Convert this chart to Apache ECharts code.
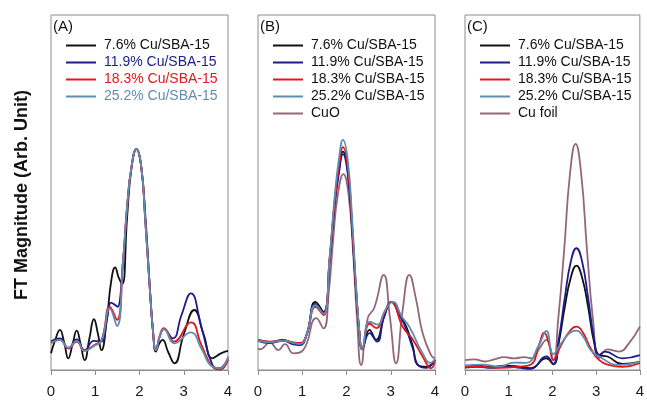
<!DOCTYPE html>
<html>
<head>
<meta charset="utf-8">
<script src="https://cdn.jsdelivr.net/npm/echarts@6/dist/echarts.min.js"></script>
<style>
  html, body { margin: 0; padding: 0; background: #fff; }
  #chart { width: 647px; height: 403px; }
</style>
</head>
<body>
<div id="chart"></div>
<script>
// Fourier-transformed EXAFS magnitude, R (Å) vs |χ(R)|, three panels.
const xTicks = [0, 1, 2, 3, 4];
const panelLabels = ['(A)', '(B)', '(C)'];
const sampleNames = ['7.6% Cu/SBA-15', '11.9% Cu/SBA-15', '18.3% Cu/SBA-15', '25.2% Cu/SBA-15'];
const refNames = ['CuO', 'Cu foil'];

// Panel A: the four Cu/SBA-15 samples
const a76 = [[0,4.7],[0.1,8.6],[0.2,11.3],[0.3,7.6],[0.39,3.3],[0.49,7.4],[0.58,11.1],[0.67,7.2],[0.76,2.8],[0.87,9.0],[0.97,14.3],[1.06,10.2],[1.14,5.6],[1.26,14],[1.36,25],[1.45,28.9],[1.53,26],[1.61,24.2],[1.72,43],[1.82,57],[1.93,62.2],[2.04,57],[2.14,42],[2.23,24],[2.31,10],[2.37,5.2],[2.45,7.5],[2.52,8.5],[2.65,5.0],[2.79,1.9],[3.0,10],[3.24,16.9],[3.45,10],[3.65,3.3],[3.84,4.7],[4,5.4]];
const a119 = [[0,8.0],[0.2,8.9],[0.39,6.1],[0.58,8.6],[0.76,5.6],[0.97,8.2],[1.14,8.0],[1.26,14],[1.36,19],[1.45,18.3],[1.5,17.8],[1.63,31],[1.72,46],[1.82,57.3],[1.93,62.2],[2.04,57.3],[2.13,42.3],[2.22,25.4],[2.31,10.3],[2.37,5.6],[2.46,9.5],[2.55,11.5],[2.75,8.9],[2.95,15.5],[3.16,21.6],[3.4,12],[3.65,1.4],[3.8,0.5],[4,3.3]];
const a183 = [[0,7.7],[0.2,8.5],[0.39,6.1],[0.58,8.0],[0.76,5.6],[0.97,7.0],[1.14,8.5],[1.33,17.8],[1.49,14.1],[1.63,31],[1.72,46],[1.82,57.3],[1.93,62.2],[2.04,57.3],[2.13,42.3],[2.22,25.4],[2.31,10.3],[2.37,5.6],[2.46,9.8],[2.55,11.8],[2.78,8.0],[3.16,13.4],[3.4,7],[3.65,0.9],[3.82,0.1],[4,2.8]];
const a252 = [[0,7.5],[0.2,8.5],[0.39,6.3],[0.58,8.2],[0.76,5.3],[0.97,6.8],[1.14,8.2],[1.33,17.3],[1.49,12.4],[1.63,31],[1.72,46],[1.82,57.3],[1.93,62.2],[2.04,57.3],[2.13,42.3],[2.22,25.4],[2.31,10.3],[2.37,5.6],[2.46,9.5],[2.55,11.5],[2.79,7.5],[3.16,10.6],[3.4,6],[3.65,0.9],[3.82,0.5],[4,3.8]];

// Panel B: samples with the CuO reference
const b76 = [[0,8.5],[0.27,7.9],[0.57,8.5],[0.8,7.5],[0.95,7.2],[1.1,10],[1.3,19.2],[1.48,16.4],[1.62,31],[1.73,47],[1.83,56.5],[1.92,61.5],[2.03,56],[2.13,39.4],[2.22,21.6],[2.3,9.4],[2.35,5.8],[2.52,11.3],[2.67,8.5],[2.85,15],[3.01,19.2],[3.2,15.5],[3.35,12.2],[3.5,6.6],[3.61,1.4],[3.8,0.9],[4,2.8]];
const b119 = [[0,8.2],[0.27,7.6],[0.57,8.2],[0.8,7.2],[0.95,7.0],[1.1,10],[1.3,18.6],[1.48,16],[1.62,31],[1.73,46],[1.83,55.5],[1.92,60.8],[2.03,55],[2.13,39],[2.22,21.6],[2.3,9.4],[2.35,5.8],[2.52,10.4],[2.69,8.0],[2.85,15],[3.03,19.2],[3.2,15.5],[3.35,11.5],[3.5,6],[3.63,1.2],[3.8,0.6],[4,2.8]];
const b183 = [[0,8.5],[0.27,8.0],[0.57,8.3],[0.8,7.8],[0.95,7.6],[1.1,10],[1.3,17.8],[1.48,15.5],[1.62,31.5],[1.73,47],[1.83,57.5],[1.92,62.8],[2.03,57],[2.13,40],[2.22,22],[2.3,9.4],[2.35,5.8],[2.52,13.1],[2.67,11.8],[2.85,16],[3.01,19.2],[3.27,12.2],[3.5,8.5],[3.72,3.8],[3.91,0.5],[4,2.8]];
const b252 = [[0,8.3],[0.27,7.8],[0.57,8.3],[0.8,7.6],[0.95,7.3],[1.1,10],[1.3,18.3],[1.48,15.8],[1.62,32],[1.73,48.5],[1.83,59.5],[1.92,64.8],[2.03,59],[2.13,42],[2.22,23],[2.3,9.4],[2.35,5.8],[2.52,13.6],[2.7,12.8],[2.88,17],[3.05,19.2],[3.25,15],[3.42,12.2],[3.72,4.7],[3.9,2],[4,3.3]];
const bCuO = [[0,6.1],[0.04,5.8],[0.27,7.7],[0.46,5.6],[0.61,7.3],[0.8,4.7],[1.02,5.6],[1.32,14.6],[1.48,11.7],[1.6,22],[1.7,37],[1.8,49],[1.93,55.2],[2.05,49],[2.15,33],[2.24,14],[2.33,1.4],[2.48,14.6],[2.63,17.6],[2.84,26.8],[2.98,15],[3.12,1.9],[3.27,17],[3.42,26.8],[3.57,20],[3.72,10.4],[3.91,4.2],[4,3.3]];

// Panel C: samples with the Cu foil reference
const c76 = [[0,1.0],[0.3,1.2],[0.6,0.9],[0.9,1.2],[1.2,1.0],[1.5,0.5],[1.86,3.3],[2.02,1.6],[2.15,8],[2.28,17.5],[2.42,26],[2.55,29.4],[2.68,26],[2.82,17.5],[2.95,8],[3.07,4.2],[3.26,3.8],[3.6,1.7],[4,2.3]];
const c119 = [[0,0.7],[0.3,0.9],[0.6,0.6],[0.9,0.9],[1.2,0.7],[1.5,0.3],[1.86,3.8],[2.02,1.7],[2.15,9],[2.28,20],[2.42,30.5],[2.55,34.3],[2.68,30.5],[2.82,20],[2.95,9],[3.07,4.2],[3.2,5.2],[3.6,3.3],[4,4.2]];
const c183 = [[0,0.9],[0.4,0.9],[0.8,0.6],[1.2,0.9],[1.5,1.5],[1.69,7],[1.81,10.5],[1.93,7],[2.02,2.8],[2.2,7],[2.4,11],[2.55,12.2],[2.7,10.5],[2.88,6],[3.07,2.8],[3.3,1.4],[3.6,0.9],[4,1.9]];
const c252 = [[0,1.3],[0.4,1.5],[0.8,1.0],[1.12,2.1],[1.4,2.0],[1.69,7],[1.86,11.0],[2.02,4.5],[2.2,7.5],[2.4,10.5],[2.55,11.1],[2.7,9.5],[2.88,5.5],[3.07,3.8],[3.52,1.4],[4,2.3]];
const cFoil = [[0,2.8],[0.22,3.0],[0.45,2.4],[0.67,3.0],[0.9,3.6],[1.12,3.3],[1.35,3.6],[1.54,3.3],[1.7,6],[1.86,8.5],[2.02,2.8],[2.13,14],[2.27,34],[2.4,55],[2.53,63.7],[2.66,55],[2.79,34],[2.93,14],[3.07,3.3],[3.26,5.8],[3.52,5.2],[3.75,7.5],[4,12.2]];

const colors = {
  '7.6% Cu/SBA-15': '#111111',
  '11.9% Cu/SBA-15': '#1b1b8c',
  '18.3% Cu/SBA-15': '#e3161c',
  '25.2% Cu/SBA-15': '#5f8db0',
  'CuO': '#93677a',
  'Cu foil': '#93677a'
};

const FONT = 'Liberation Sans, Arial, sans-serif';
const panels = [
  { left: 51, sets: [a76, a119, a183, a252], ref: null, colorText: true },
  { left: 258, sets: [b76, b119, b183, b252], ref: ['CuO', bCuO], colorText: false },
  { left: 465, sets: [c76, c119, c183, c252], ref: ['Cu foil', cFoil], colorText: false }
];
const PW = 177, TOP = 15, PH = 355;

const grid = [], xAxis = [], yAxis = [], series = [], legend = [], graphic = [];

panels.forEach((p, i) => {
  grid.push({ left: p.left, top: TOP, width: PW, height: PH, show: true,
              borderColor: '#8c8c8c', borderWidth: 1, backgroundColor: 'transparent' });
  xAxis.push({ type: 'value', gridIndex: i, min: xTicks[0], max: xTicks[xTicks.length - 1], interval: 1,
               axisLine: { show: true, lineStyle: { color: '#8c8c8c', width: 1 } },
               axisTick: { show: true, inside: false, length: 5, lineStyle: { color: '#8c8c8c' } },
               axisLabel: { fontSize: 15, color: '#1a1a1a', fontFamily: FONT, margin: 14 },
               splitLine: { show: false } });
  yAxis.push({ type: 'value', gridIndex: i, min: 0, max: 100, show: false });

  const names = sampleNames.slice();
  const order = p.sets.map((d, k) => [sampleNames[k], d]);
  if (p.ref) { names.push(p.ref[0]); }
  // reference trace drawn first so sample traces sit on top
  const drawList = p.ref ? [p.ref].concat(order) : order;
  drawList.forEach(([name, data]) => {
    series.push({
      type: 'line', name: name, xAxisIndex: i, yAxisIndex: i,
      data: data, smooth: 0.5, showSymbol: false, symbol: 'none',
      lineStyle: { color: colors[name], width: 1.8 },
      itemStyle: { color: colors[name] },
      silent: true, animation: false
    });
  });

  legend.push({
    left: p.left + 15, top: 37, orient: 'vertical', padding: 0, itemGap: 0,
    itemWidth: 30, itemHeight: 2, icon: 'rect',
    selectedMode: false,
    textStyle: { fontSize: 14, fontFamily: FONT, color: '#111', lineHeight: 17, padding: [0, 0, 0, 3] },
    data: names.map(n => p.colorText
      ? { name: n, textStyle: { color: colors[n] } }
      : { name: n })
  });

  graphic.push({ type: 'text', left: p.left + 2, top: 19,
                 style: { text: panelLabels[i], font: '15px ' + FONT, fill: '#111' } });
});

graphic.push({
  type: 'text', x: 22, y: 195, rotation: Math.PI / 2,
  style: { text: 'FT Magnitude (Arb. Unit)', font: 'bold 18px ' + FONT, fill: '#111',
           align: 'center', verticalAlign: 'middle' }
});

const chart = echarts.init(document.getElementById('chart'), null, { renderer: 'canvas' });
chart.setOption({ animation: false, backgroundColor: '#fff', grid, xAxis, yAxis, series, legend, graphic });
</script>
</body>
</html>
